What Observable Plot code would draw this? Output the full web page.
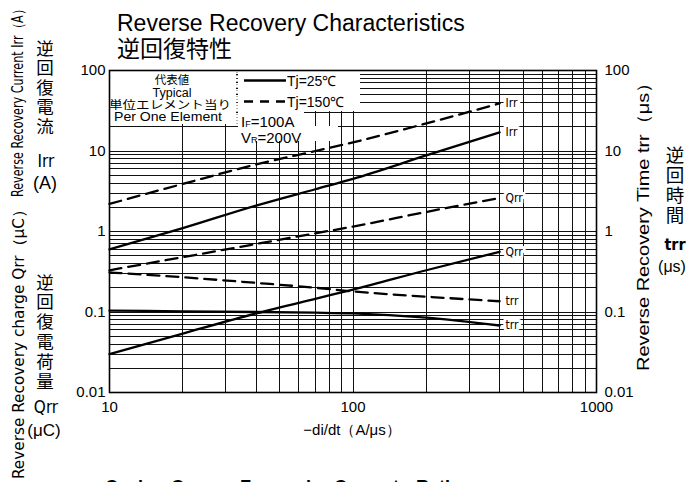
<!DOCTYPE html>
<html><head><meta charset="utf-8">
<script src="https://cdn.jsdelivr.net/npm/d3@7"></script>
<script src="https://cdn.jsdelivr.net/npm/@observablehq/plot@0.6"></script>
<style>body{margin:0;background:#fff} svg{display:block}</style>
</head><body><div id="chart"></div>
<script>
// ---- data ----
const diDt   = [10, 20, 40, 70, 100, 200, 400];
const irr25  = [0.6, 1.1, 2.1, 3.35, 4.5, 8.8, 17];
const irr150 = [2.2, 3.9, 6.8, 10, 12.8, 22, 39];
const qrr25  = [0.03, 0.054, 0.096, 0.146, 0.19, 0.33, 0.56];
const qrr150 = [0.33, 0.48, 0.7, 0.95, 1.15, 1.75, 2.6];
const trr25  = [0.104, 0.102, 0.1, 0.098, 0.096, 0.085, 0.068];
const trr150 = [0.31, 0.27, 0.23, 0.2, 0.18, 0.155, 0.136];
const xTicks = [10, 100, 1000];
const yTicks = [0.01, 0.1, 1, 10, 100];
const xGrid = [20,30,40,50,60,70,80,90,100,200,300,400,500,600,700,800,900];
const yGrid = [0.02,0.03,0.04,0.05,0.06,0.07,0.08,0.09,0.1,0.2,0.3,0.4,0.5,0.6,0.7,0.8,0.9,1,
               2,3,4,5,6,7,8,9,10,20,30,40,50,60,70,80,90];

const seriesDefs = [
  {label: "Irr", values: irr25,  dashed: false},
  {label: "Irr", values: irr150, dashed: true},
  {label: "Qrr", values: qrr25,  dashed: false},
  {label: "Qrr", values: qrr150, dashed: true},
  {label: "trr", values: trr25,  dashed: false},
  {label: "trr", values: trr150, dashed: true}
];
const rows = seriesDefs.flatMap((s, k) => s.values.map((v, i) => ({x: diDt[i], y: v, id: k, dashed: s.dashed})));
const endLabels = seriesDefs.map(s => ({x: diDt[diDt.length - 1], y: s.values[s.values.length - 1], text: s.label}));

const LAT = "'Liberation Sans', Arial, sans-serif";
const NAR = "'Liberation Sans Narrow', 'Arial Narrow', 'DejaVu Sans Condensed', sans-serif";
const CJK = "'Noto Sans CJK JP', 'Noto Sans CJK SC', sans-serif";

// legend block (static decoration drawn beneath the curves)
function legendMark() {
  const g = d3.create("svg:g");
  const rect = (x, y, w, h) => g.append("rect").attr("x", x).attr("y", y).attr("width", w).attr("height", h).attr("fill", "white");
  rect(110, 71, 126, 53);
  rect(238, 71, 122, 40);
  rect(238, 111, 66, 15);
  rect(238, 126, 100, 15);
  g.append("line").attr("x1", 237).attr("x2", 237).attr("y1", 72).attr("y2", 124)
    .attr("stroke", "#666").attr("stroke-dasharray", "1,2");
  const t = (x, y, s, size, fam, anchor, len) => {
    const e = g.append("text").attr("x", x).attr("y", y).text(s)
      .attr("font-size", size).attr("font-family", fam).attr("text-anchor", anchor || "start");
    if (len) e.attr("textLength", len).attr("lengthAdjust", "spacingAndGlyphs");
    return e;
  };
  t(172, 84, "代表値", 11.5, CJK, "middle");
  t(172, 96.5, "Typical", 12.5, LAT, "middle");
  t(170, 109, "単位エレメント当り", 11.5, CJK, "middle", 122);
  t(168, 121, "Per One Element", 13, LAT, "middle", 108);
  g.append("line").attr("x1", 244).attr("x2", 286).attr("y1", 80.5).attr("y2", 80.5)
    .attr("stroke", "black").attr("stroke-width", 2.5);
  t(287, 86, "Tj=25℃", 14, LAT);
  g.append("line").attr("x1", 244).attr("x2", 286).attr("y1", 101.5).attr("y2", 101.5)
    .attr("stroke", "black").attr("stroke-width", 2.5).attr("stroke-dasharray", "9,7");
  t(287, 107, "Tj=150℃", 14, LAT);
  const i1 = t(241, 127, "I", 15, LAT);
  i1.append("tspan").attr("font-size", 9).text("F");
  i1.append("tspan").text("=100A");
  const v1 = t(241, 143, "V", 15, LAT);
  v1.append("tspan").attr("font-size", 9).text("R");
  v1.append("tspan").text("=200V");
  return g.node();
}

const plot = Plot.plot({
  width: 694,
  height: 482,
  marginLeft: 109,
  marginRight: 98,
  marginTop: 70,
  marginBottom: 90,
  style: {fontFamily: LAT, fontSize: "15px", color: "black", background: "white"},
  x: {type: "log", domain: [10, 1000]},
  y: {type: "log", domain: [0.01, 100]},
  marks: [
    Plot.ruleX(xGrid, {stroke: "#111", strokeWidth: 1, shapeRendering: "crispEdges"}),
    Plot.ruleY(yGrid, {stroke: "#111", strokeWidth: 1, shapeRendering: "crispEdges"}),
    legendMark,
    Plot.line(rows.filter(d => !d.dashed), {x: "x", y: "y", z: "id", stroke: "black", strokeWidth: 2.3, curve: "monotone-x"}),
    Plot.line(rows.filter(d => d.dashed), {x: "x", y: "y", z: "id", stroke: "black", strokeWidth: 2.3, strokeDasharray: "12,7", curve: "monotone-x"}),
    Plot.text(endLabels, {x: "x", y: "y", text: "text", dx: 6, textAnchor: "start", fontSize: 12,
      fontFamily: NAR, fill: "black", stroke: "white", strokeWidth: 6}),
    Plot.frame({stroke: "black", strokeWidth: 1.6}),
    Plot.axisY(yTicks, {anchor: "left", tickSize: 0, tickPadding: 4, tickFormat: d => String(d), label: null, fontSize: 15}),
    Plot.axisY(yTicks, {anchor: "right", tickSize: 0, tickPadding: 8, tickFormat: d => String(d), label: null, fontSize: 15}),
    Plot.axisX(xTicks, {anchor: "bottom", tickSize: 0, tickPadding: 9, tickFormat: d => String(d), label: null, fontSize: 15})
  ]
});

const svg = d3.select(plot);
const add = (x, y, s, size, fam, anchor) => svg.append("text").attr("x", x).attr("y", y).text(s)
  .attr("font-size", size).attr("font-family", fam).attr("text-anchor", anchor || "start").attr("fill", "black");

// titles
add(117, 31, "Reverse Recovery Characteristics", 23, LAT);
add(117, 57, "逆回復特性", 23, CJK);
// x axis title
add(352, 435, "−di/dt（A/μs）", 15, LAT, "middle");

// rotated axis titles
const rot = (x, y, s, size, fam, len) => svg.append("text")
  .attr("transform", `translate(${x},${y}) rotate(-90)`).attr("text-anchor", "middle")
  .attr("dominant-baseline", "central").attr("font-size", size).attr("font-family", fam)
  .attr("textLength", len).attr("lengthAdjust", "spacingAndGlyphs").text(s);
rot(18, 100, "Reverse Recovery Current Irr（A）", 15, NAR, 194);
rot(18, 340, "Reverse Recovery charge Qrr（μC）", 16, NAR, 278);
rot(643, 222, "Reverse Recovery Time trr（μs）", 17, LAT, 298);

// vertical CJK labels
const vert = (x, y0, step, s, size) => [...s].forEach((c, i) =>
  svg.append("text").attr("x", x).attr("y", y0 + i * step).attr("text-anchor", "middle")
    .attr("dominant-baseline", "central").attr("font-size", size).attr("font-family", CJK).text(c));
vert(45, 47, 19.5, "逆回復電流", 17.5);
vert(45, 281, 19.8, "逆回復電荷量", 17.5);
vert(675, 154, 20, "逆回時間", 18.5);
const cen = (x, y, s, size, fam) => svg.append("text").attr("x", x).attr("y", y).attr("text-anchor", "middle")
  .attr("dominant-baseline", "central").attr("font-size", size).attr("font-family", fam).text(s);
cen(46, 161, "Irr", 17, NAR);
cen(45, 183, "(A)", 18, LAT);
cen(46, 407, "Qrr", 17, NAR);
cen(44, 430, "(μC)", 17, LAT);
cen(675, 244, "trr", 16, NAR).attr("font-weight", "bold");
cen(672, 266, "(μs)", 16, LAT);

// caption of the next figure, cut off at the bottom edge
[["Cycle", 105], ["Curve", 171], ["Forward", 240], ["Current", 334], ["Ratio", 416]].forEach(([w, x]) =>
  add(x, 493, w, 18, LAT).attr("font-weight", "bold"));

document.getElementById("chart").appendChild(plot);
</script>
</body></html>
